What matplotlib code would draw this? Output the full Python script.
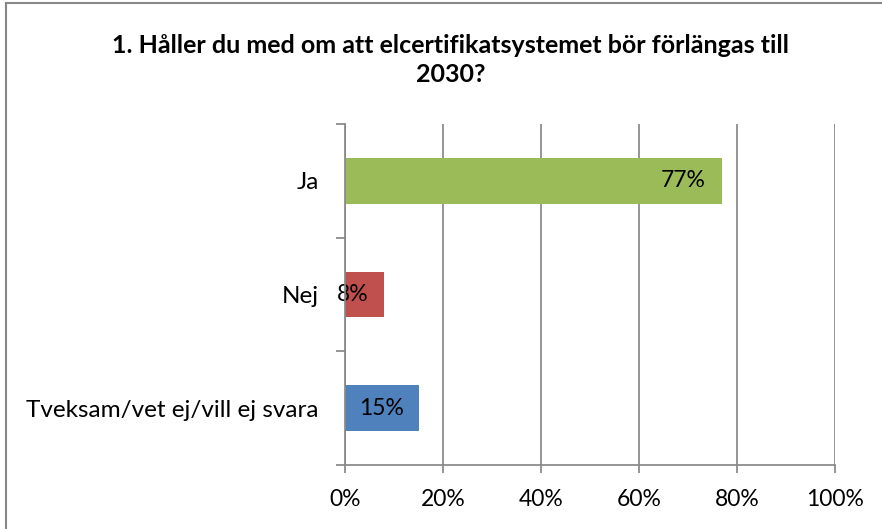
import numpy as np
import matplotlib.pyplot as plt
from matplotlib.lines import Line2D

plt.rcParams['font.family'] = ['Lato', 'DejaVu Sans']

# data
kategorier = ['Tveksam/vet ej/vill ej svara', 'Nej', 'Ja']
andel = [0.15, 0.08, 0.77]
farger = ['#4F81BD', '#C0504D', '#9BBB59']
xticks = [0, 0.2, 0.4, 0.6, 0.8, 1.0]
xlabels = ['0%', '20%', '40%', '60%', '80%', '100%']
titel = '1. Håller du med om att elcertifikatsystemet bör förlängas till\n2030?'

grid_c = '#888888'

fig = plt.figure(figsize=(8.82, 5.29), dpi=100)
ax = fig.add_axes([345/882, 1 - 465/529, 490/882, 341/529])

y = np.arange(len(kategorier))
ax.barh(y, andel, height=0.4, color=farger, zorder=3)

# etiketter på staplarna
ax.text(andel[0] / 2, y[0], '15%', ha='center', va='center', fontsize=16.5, zorder=4)
ax.text(-0.017, y[1], '8%', ha='left', va='center', fontsize=16.5, zorder=4)
ax.text(andel[2] - 0.035, y[2], '77%', ha='right', va='center', fontsize=16.5, zorder=4)

ax.set_xlim(0, 1)
ax.set_ylim(-0.5, 2.5)
ax.set_xticks(xticks)
ax.set_xticklabels(xlabels, fontsize=16.5)
ax.set_yticks(y)
ax.set_yticklabels(kategorier, fontsize=17.5)
ax.set_yticks([-0.5, 0.5, 1.5, 2.5], minor=True)

ax.tick_params(axis='y', which='major', length=0, pad=19)
ax.tick_params(axis='y', which='minor', length=6.5, width=1.25, color=grid_c)
ax.tick_params(axis='x', length=6, width=1.25, color=grid_c, pad=11)

ax.grid(axis='x', color=grid_c, linewidth=1.25, zorder=0)
for s in ['top', 'right']:
    ax.spines[s].set_visible(False)
for s in ['left', 'bottom']:
    ax.spines[s].set_color(grid_c)
    ax.spines[s].set_linewidth(1.25)
    ax.spines[s].set_zorder(5)

fig.text(451/882, 1 - 60/529, titel, ha='center', va='center',
         fontsize=18, fontweight='bold', linespacing=1.3)

# ram runt diagrammet
fig.add_artist(Line2D([6/882, 6/882], [0, 1 - 3/529], color=grid_c, lw=1.5))
fig.add_artist(Line2D([6/882, 1], [1 - 3/529, 1 - 3/529], color=grid_c, lw=1.5))

fig.savefig('out.png', dpi=100)
